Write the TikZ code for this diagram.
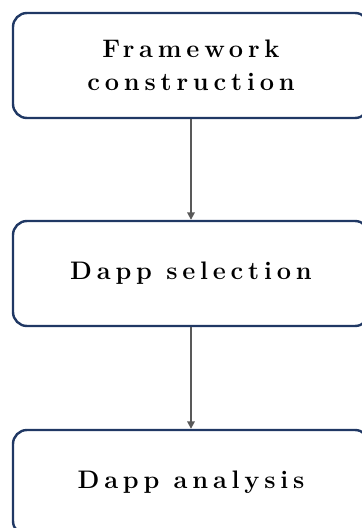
\documentclass[tikz,border=0pt]{standalone}
\usepackage{fontspec}
\setmainfont{Latin Modern Roman}[LetterSpace=19]
\usetikzlibrary{arrows.meta}
\definecolor{boxblue}{HTML}{203864}
\definecolor{arrgray}{HTML}{595959}
\tikzset{
  stepbox/.style={draw=boxblue, line width=1.8pt, rounded corners=10.5pt,
    minimum width=267pt, minimum height=78.75pt, inner sep=0pt,
    align=center, font=\fontsize{19}{25}\selectfont\bfseries},
  flow/.style={draw=arrgray, line width=1.3pt, -{Triangle[length=5.5pt,width=5.5pt]}}
}
\begin{document}
\begin{tikzpicture}[x=0.75pt,y=-0.75pt]
\useasboundingbox (0,0) rectangle (361,528);
\node[stepbox] (a) at (191,65.5) {Framework\\construction};
\node[stepbox] (b) at (191,273.5) {Dapp selection};
\node[stepbox] (c) at (191,482.5) {Dapp analysis};
\draw[flow] (a) -- (b);
\draw[flow] (b) -- (c);
\end{tikzpicture}
\end{document}
